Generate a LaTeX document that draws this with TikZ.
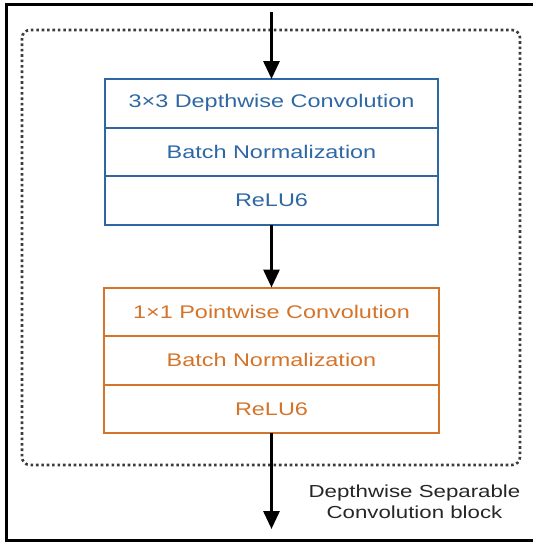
\documentclass[tikz,border=0pt]{standalone}
\usepackage{fontspec}
\setmainfont[FakeStretch=1.28]{Liberation Sans}
\usetikzlibrary{arrows.meta}
\definecolor{dwblue}{RGB}{46,104,164}
\definecolor{pworange}{RGB}{212,116,42}
\definecolor{dotgray}{RGB}{60,60,60}
\tikzset{
  layer/.style={draw, line width=2pt, outer sep=0pt, minimum width=333pt, minimum height=48.5pt, inner sep=0pt, font=\fontsize{18.3}{22}\selectfont, anchor=north},
  bluelayer/.style={layer, draw=dwblue, text=dwblue},
  orangelayer/.style={layer, draw=pworange, text=pworange},
  flow/.style={line width=3pt, -{Triangle[width=16pt,length=18pt]}},
  blockframe/.style={draw=dotgray, line width=2.6pt, dash pattern=on 2.6pt off 2.8pt, rounded corners=8pt},
  caption/.style={align=center, font=\fontsize{17.4}{20.5}\selectfont, text=black!85}
}
\begin{document}
\begin{tikzpicture}[x=1pt,y=-1pt]
\useasboundingbox (0,0) rectangle (533,542);
% outer frame
\draw[line width=3pt] (560,4) -- (6.5,4) -- (6.5,540.5) -- (560,540.5);
% dotted block
\draw[blockframe] (22,30) rectangle (520,465);
% blue stack
\node[bluelayer] (b1) at (271.5,79) {3×3 Depthwise Convolution};
\node[bluelayer] (b2) at (b1.south) {Batch Normalization};
\node[bluelayer] (b3) at (b2.south) {ReLU6};
% orange stack
\node[orangelayer, minimum width=335pt] (o1) at (271.5,287.5) {1×1 Pointwise Convolution};
\node[orangelayer, minimum width=335pt] (o2) at (o1.south) {Batch Normalization};
\node[orangelayer, minimum width=335pt] (o3) at (o2.south) {ReLU6};
% arrows
\coordinate (in) at (271.5,12);
\coordinate (out) at (271.5,529);
\draw[flow] (in) -- (b1.north);
\draw[flow] (b3.south) -- (o1.north);
\draw[flow] (o3.south) -- (out);
% caption
\node[caption] (cap) at (414.5,502) {Depthwise Separable\\Convolution block};
\end{tikzpicture}
\end{document}
